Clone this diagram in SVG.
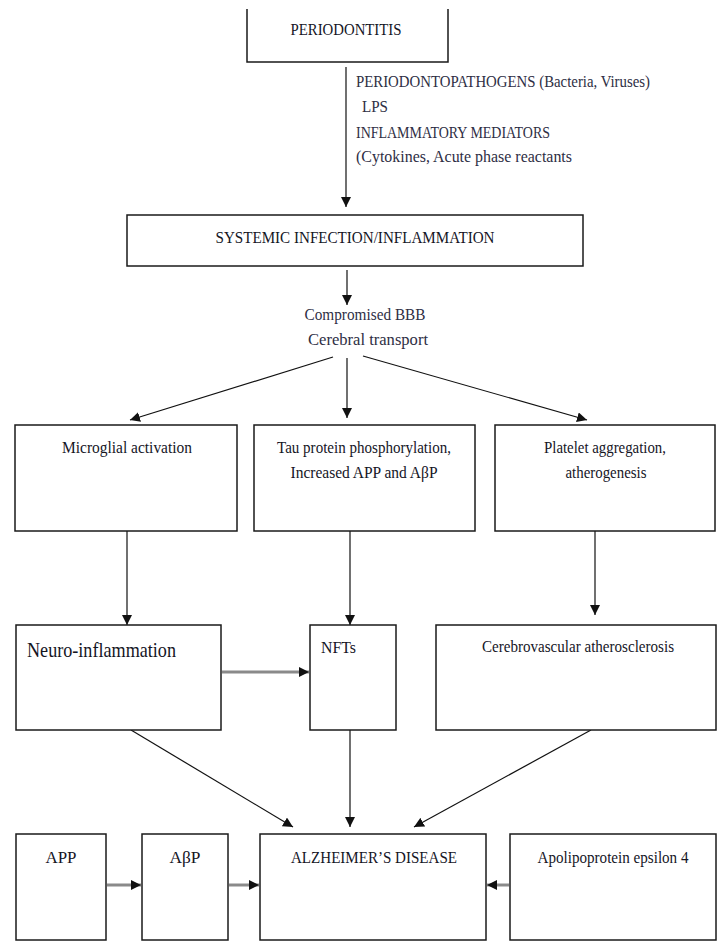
<svg xmlns="http://www.w3.org/2000/svg" width="717" height="944" viewBox="0 0 717 944">
<style>
.box{fill:#fff;stroke:#1a1a1a;stroke-width:1.5}
.t{font-family:'Liberation Serif','Times New Roman',Times,serif;font-size:17px;fill:#15151f}
.lbl{font-family:'Liberation Serif','Times New Roman',Times,serif;font-size:17px;fill:#2e2e44}
.c{text-anchor:middle}
.ln{stroke:#111;stroke-width:1.2;fill:none}
.gl{stroke:#8a8a8a;stroke-width:3;fill:none}
</style>
<defs>
<marker id="ah" viewBox="0 0 10 10" refX="10" refY="5" markerWidth="10" markerHeight="10" markerUnits="userSpaceOnUse" orient="auto">
<path d="M0,0 L10,5 L0,10 z" fill="#111"/>
</marker>
<marker id="ahg" viewBox="0 0 10 10" refX="10" refY="5" markerWidth="3.4" markerHeight="3.4" orient="auto">
<path d="M0,0 L10,5 L0,10 z" fill="#111"/>
</marker>
</defs>
<rect width="717" height="944" fill="#fff"/>
<g id="connectors">
<line class="ln" x1="346" y1="67" x2="346" y2="207" marker-end="url(#ah)"/>
<line class="ln" x1="347" y1="270" x2="347" y2="305" marker-end="url(#ah)"/>
<line class="ln" x1="333" y1="357" x2="130" y2="420" marker-end="url(#ah)"/>
<line class="ln" x1="347" y1="358" x2="347" y2="418" marker-end="url(#ah)"/>
<line class="ln" x1="363" y1="356" x2="587" y2="420" marker-end="url(#ah)"/>
<line class="ln" x1="127" y1="531" x2="127" y2="625" marker-end="url(#ah)"/>
<line class="ln" x1="350" y1="531" x2="350" y2="625" marker-end="url(#ah)"/>
<line class="ln" x1="595" y1="531" x2="595" y2="615" marker-end="url(#ah)"/>
<line class="gl" x1="222" y1="672" x2="309" y2="672" marker-end="url(#ahg)"/>
<line class="ln" x1="131" y1="730" x2="293" y2="827" marker-end="url(#ah)"/>
<line class="ln" x1="350" y1="730" x2="350" y2="827" marker-end="url(#ah)"/>
<line class="ln" x1="591" y1="730" x2="414" y2="827" marker-end="url(#ah)"/>
<line class="gl" x1="107" y1="885" x2="141" y2="885" marker-end="url(#ahg)"/>
<line class="gl" x1="229" y1="885" x2="259" y2="885" marker-end="url(#ahg)"/>
<line class="gl" x1="509" y1="885" x2="487" y2="885" marker-end="url(#ahg)"/>
</g>
<g id="periodontitis">
<path class="box" d="M247,9 V62 H448 V9"/>
<text class="t c" x="346" y="35" textLength="111" lengthAdjust="spacingAndGlyphs">PERIODONTITIS</text>
</g>
<g id="mediators-label">
<text class="lbl" x="356" y="87" textLength="294" lengthAdjust="spacingAndGlyphs">PERIODONTOPATHOGENS (Bacteria, Viruses)</text>
<text class="lbl" x="362" y="112" textLength="26" lengthAdjust="spacingAndGlyphs">LPS</text>
<text class="lbl" x="356" y="138" textLength="194" lengthAdjust="spacingAndGlyphs">INFLAMMATORY MEDIATORS</text>
<text class="lbl" x="356" y="162" textLength="216" lengthAdjust="spacingAndGlyphs">(Cytokines, Acute phase reactants</text>
</g>
<g id="systemic">
<rect class="box" x="127" y="215" width="456" height="51"/>
<text class="t c" x="355" y="243" textLength="279" lengthAdjust="spacingAndGlyphs">SYSTEMIC INFECTION/INFLAMMATION</text>
</g>
<g id="bbb-label">
<text class="lbl c" x="365" y="320" textLength="121" lengthAdjust="spacingAndGlyphs">Compromised BBB</text>
<text class="lbl c" x="368" y="345" textLength="120" lengthAdjust="spacingAndGlyphs">Cerebral transport</text>
</g>
<g id="microglial">
<rect class="box" x="15" y="425" width="222" height="106"/>
<text class="t c" x="127" y="453" textLength="130" lengthAdjust="spacingAndGlyphs">Microglial activation</text>
</g>
<g id="tau">
<rect class="box" x="254" y="425" width="221" height="106"/>
<text class="t c" x="364" y="453" textLength="174" lengthAdjust="spacingAndGlyphs">Tau protein phosphorylation,</text>
<text class="t c" x="364" y="478" textLength="147" lengthAdjust="spacingAndGlyphs">Increased APP and AβP</text>
</g>
<g id="platelet">
<rect class="box" x="495" y="425" width="220" height="106"/>
<text class="t c" x="605" y="453" textLength="122" lengthAdjust="spacingAndGlyphs">Platelet aggregation,</text>
<text class="t c" x="606" y="478" textLength="81" lengthAdjust="spacingAndGlyphs">atherogenesis</text>
</g>
<g id="neuro">
<rect class="box" x="16" y="625" width="205" height="105"/>
<text class="t" x="27" y="657" style="font-size:21px" textLength="149" lengthAdjust="spacingAndGlyphs">Neuro-inflammation</text>
</g>
<g id="nfts">
<rect class="box" x="310" y="625" width="86" height="105"/>
<text class="t" x="321" y="653" textLength="35" lengthAdjust="spacingAndGlyphs">NFTs</text>
</g>
<g id="cerebro">
<rect class="box" x="436" y="625" width="280" height="105"/>
<text class="t c" x="578" y="652" textLength="192" lengthAdjust="spacingAndGlyphs">Cerebrovascular atherosclerosis</text>
</g>
<g id="app">
<rect class="box" x="16" y="834" width="90" height="106"/>
<text class="t c" x="61" y="863" textLength="31" lengthAdjust="spacingAndGlyphs">APP</text>
</g>
<g id="abp">
<rect class="box" x="142" y="834" width="86" height="106"/>
<text class="t c" x="185" y="863" textLength="31" lengthAdjust="spacingAndGlyphs">AβP</text>
</g>
<g id="alzheimers">
<rect class="box" x="260" y="834" width="226" height="106"/>
<text class="t c" x="374" y="863" textLength="166" lengthAdjust="spacingAndGlyphs">ALZHEIMER’S DISEASE</text>
</g>
<g id="apoe4">
<rect class="box" x="510" y="834" width="206" height="106"/>
<text class="t c" x="613" y="863" textLength="151" lengthAdjust="spacingAndGlyphs">Apolipoprotein epsilon 4</text>
</g>
</svg>
